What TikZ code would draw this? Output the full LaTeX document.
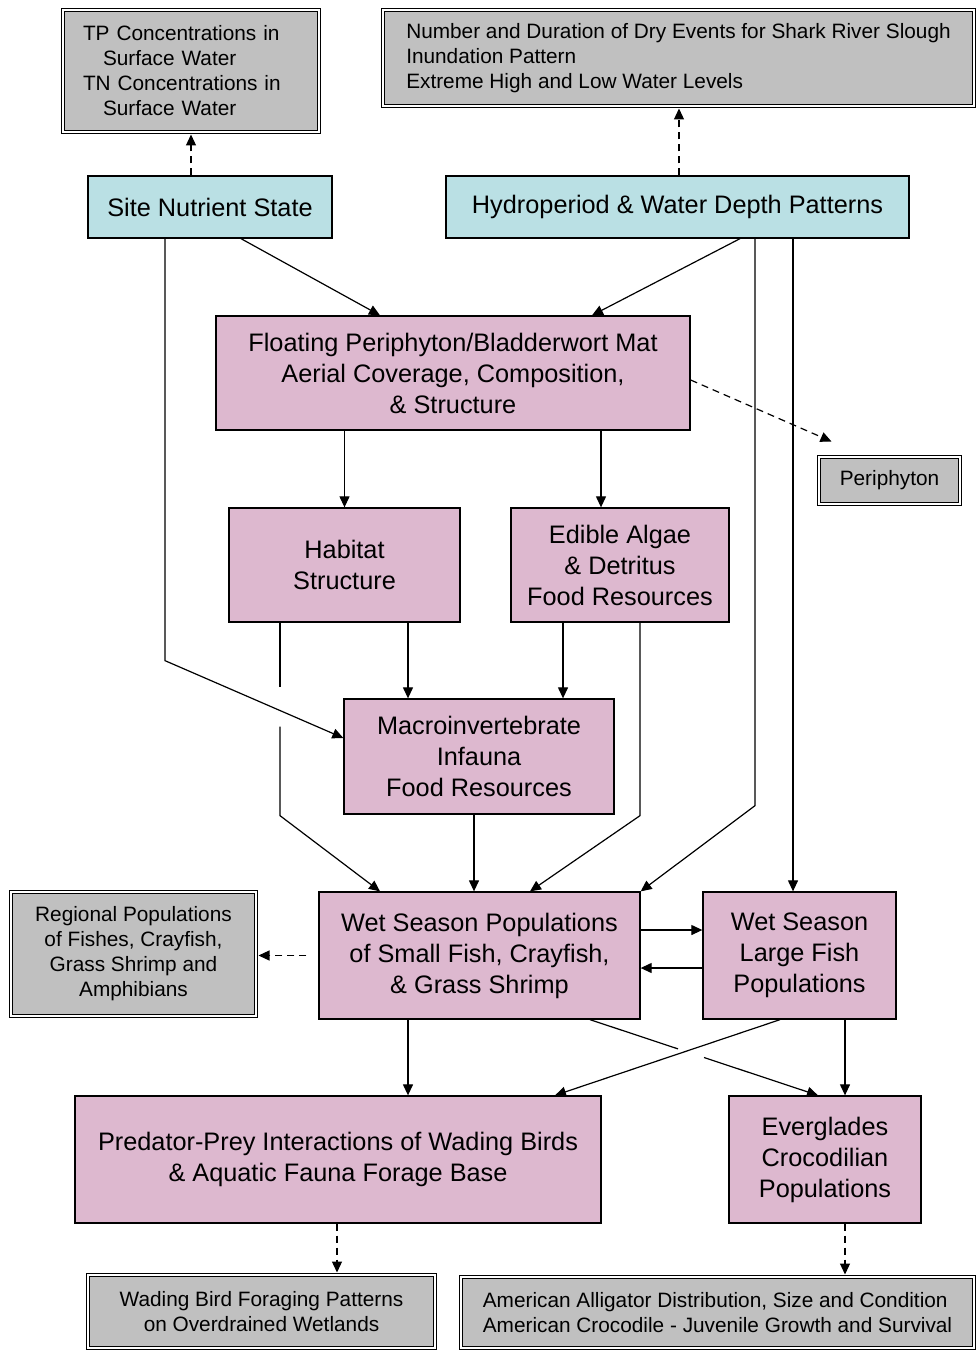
\documentclass[tikz,border=0pt]{standalone}
\usepackage{fontspec}
\setmainfont{Liberation Sans}
\usetikzlibrary{arrows.meta,calc}
\definecolor{pinkfill}{RGB}{221,184,207}
\definecolor{cyanfill}{RGB}{186,224,228}
\definecolor{grayfill}{RGB}{192,192,192}
\begin{document}
\begin{tikzpicture}[x=1pt,y=-1pt,
  mainbox/.style={draw, line width=1.3pt, fill=pinkfill, inner sep=0pt, align=center,
    font=\fontsize{25.3}{31}\selectfont},
  topbox/.style={mainbox, fill=cyanfill},
  graybx/.style={draw, line width=1pt, double=white, double distance=1.6pt, fill=grayfill,
    inner sep=0pt, font=\fontsize{20.8}{25}\selectfont},
  arr/.style={line width=1.2pt, -{Triangle[length=11pt,width=10pt]}},
  darr/.style={arr, dash pattern=on 7pt off 5pt, shorten >=2pt},
  ln/.style={line width=1.2pt}]
\useasboundingbox (0,0) rectangle (979,1351);

% gray result boxes
\node[graybx, minimum width=256, minimum height=122, text width=216, align=left] (tp) at (191,71)
  {TP Concentrations in\\\hspace*{20pt}Surface Water\\TN Concentrations in\\\hspace*{20pt}Surface Water};
\node[graybx, minimum width=591, minimum height=96, align=left] (num) at (678.5,58)
  {Number and Duration of Dry Events for Shark River Slough\\Inundation Pattern\\Extreme High and Low Water Levels};
\node[graybx, minimum width=141, minimum height=47, align=center] (peri) at (889.5,480.5) {Periphyton};
\node[graybx, minimum width=245, minimum height=124, align=center] (reg) at (133.5,954)
  {Regional Populations\\of Fishes, Crayfish,\\Grass Shrimp and\\Amphibians};
\node[graybx, minimum width=347, minimum height=73, align=center] (wad) at (261.5,1311.5)
  {Wading Bird Foraging Patterns\\on Overdrained Wetlands};
\node[graybx, minimum width=513, minimum height=71, align=left] (all) at (717.5,1312.5)
  {American Alligator Distribution, Size and Condition\\American Crocodile - Juvenile Growth and Survival};

% driver boxes
\node[topbox, minimum width=244, minimum height=62] (site) at (210,207) {Site Nutrient State};
\node[topbox, minimum width=463, minimum height=62] (hyd) at (677.5,207) {Hydroperiod \& Water Depth Patterns};

% pink boxes
\node[mainbox, minimum width=474, minimum height=114] (flt) at (453,373)
  {Floating Periphyton/Bladderwort Mat\\Aerial Coverage, Composition,\\\& Structure};
\node[mainbox, minimum width=231, minimum height=114] (hab) at (344.5,565) {Habitat\\Structure};
\node[mainbox, minimum width=218, minimum height=114] (ed) at (620,565) {Edible Algae\\\& Detritus\\Food Resources};
\node[mainbox, minimum width=270, minimum height=115] (mac) at (479,756.5)
  {Macroinvertebrate\\Infauna\\Food Resources};
\node[mainbox, minimum width=321, minimum height=127] (ws) at (479.5,955.5)
  {Wet Season Populations\\of Small Fish, Crayfish,\\\& Grass Shrimp};
\node[mainbox, minimum width=193, minimum height=127] (lg) at (799.5,955.5)
  {Wet Season\\Large Fish\\Populations};
\node[mainbox, minimum width=526, minimum height=127] (pred) at (338,1159.5)
  {Predator-Prey Interactions of Wading Birds\\\& Aquatic Fauna Forage Base};
\node[mainbox, minimum width=192, minimum height=127] (croc) at (825,1159.5)
  {Everglades\\Crocodilian\\Populations};

% dashed links to measures
\draw[darr] (site.north -| tp.south) -- (tp.south);
\draw[darr] ($(hyd.north)+(1.5,0)$) -- ($(num.south)+(0.5,0)$);
\draw[darr, shorten >=0pt] ($(flt.east)+(0,7)$) -- ($(peri.north west)+(13,-15)$);
\draw[darr] ($(ws.west)+(-12,0)$) -- (ws.west -| reg.east);
\draw[darr] ($(pred.south)+(-1,0)$) -- ($(wad.north)+(75.5,0)$);
\draw[darr] ($(croc.south)+(20,0)$) -- ($(all.north)+(127.5,0)$);

% solid links
\draw[arr] ($(site.south)+(31,0)$) -- ($(flt.north)+(-73,0)$);
\draw[arr] ($(hyd.south)+(62.5,0)$) -- ($(flt.north)+(139,0)$);
\draw[arr] ($(site.south)+(-45,0)$) -- ($(site.south)+(-45,422)$) -- ($(mac.west)+(0,-18.5)$);
\draw[arr] ($(hyd.south)+(77.5,0)$) -- ($(hyd.south)+(77.5,567)$) -- (ws.north east);
\draw[arr] ($(hyd.south)+(115.5,0)$) -- ($(lg.north)+(-6.5,0)$);
\draw[arr] (hab.north |- flt.south) -- (hab.north);
\draw[arr] ($(flt.south)+(148,0)$) -- ($(ed.north)+(-19,0)$);
\draw[arr] ($(hab.south)+(63.5,0)$) -- ($(mac.north)+(-71,0)$);
\draw[arr] ($(ed.south)+(-57,0)$) -- ($(mac.north)+(84,0)$);
\draw[ln] ($(hab.south)+(-64.5,0)$) -- ($(hab.south)+(-64.5,64)$);
\draw[arr] ($(hab.south)+(-64.5,104)$) -- ($(hab.south)+(-64.5,193)$) -- ($(ws.north)+(-99.5,0)$);
\draw[arr] ($(ed.south)+(20,0)$) -- ($(ed.south)+(20,193)$) -- ($(ws.north)+(50.5,0)$);
\draw[arr] ($(mac.south)+(-5,0)$) -- ($(ws.north)+(-5.5,0)$);
\draw[arr] ($(ws.east)+(0,-25.5)$) -- ($(lg.west)+(0,-25.5)$);
\draw[arr] ($(lg.west)+(0,12.5)$) -- ($(ws.east)+(0,12.5)$);
\draw[arr] ($(ws.south)+(-71.5,0)$) -- ($(pred.north)+(70,0)$);
\draw[arr] ($(lg.south)+(-19.5,0)$) -- ($(pred.north)+(217,0)$);
\coordinate (xa) at ($(ws.south)+(110.5,0)$);
\coordinate (xb) at ($(croc.north)+(-7,0)$);
\draw[ln] (xa) -- ($(xa)!0.386!(xb)$);
\draw[arr] ($(xa)!0.5!(xb)$) -- (xb);
\draw[arr] ($(lg.south)+(45.5,0)$) -- ($(croc.north)+(20,0)$);
\end{tikzpicture}
\end{document}
